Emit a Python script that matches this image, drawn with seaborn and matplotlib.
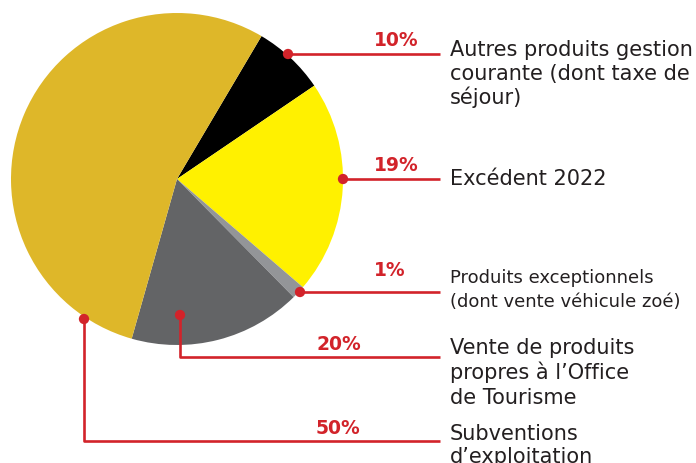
import matplotlib
matplotlib.use("Agg")
import matplotlib.pyplot as plt
import seaborn as sns
import pandas as pd

# slice sizes as measured on the picture (clockwise from the top-right)
categories = [
    "Autres produits gestion\ncourante (dont taxe de\nséjour)",
    "Excédent 2022",
    "Produits exceptionnels\n(dont vente véhicule zoé)",
    "Vente de produits\npropres à l\u2019Office\nde Tourisme",
    "Subventions\nd\u2019exploitation",
]
slice_shares = [7.0, 20.8, 1.3, 16.8, 54.1]
pct_labels = ["10%", "19%", "1%", "20%", "50%"]
colors = ["#000000", "#FFF100", "#939598", "#636466", "#DEB729"]

RED = "#D2232A"
W, H = 696, 464


def fy(y):
    # pixel row (from top) -> data y
    return H - y


sns.set_style("white")
plt.rcParams["font.family"] = ["DejaVu Sans"]

fig = plt.figure(figsize=(W / 100, H / 100), dpi=100)
ax = fig.add_axes([0, 0, 1, 1])

ax.pie(slice_shares, colors=colors, startangle=59.4, counterclock=False,
       center=(177, fy(180)), radius=166, frame=True,
       wedgeprops=dict(linewidth=0))

# leader lines: anchor dot, optional elbow, end at the text column
anchors = pd.DataFrame({
    "x": [288, 343, 300, 180, 84],
    "y": [fy(55), fy(180), fy(293), fy(316), fy(320)],
})
line_rows = [55, 180, 293, 358, 442]
pct_pos = [(374, 46), (374, 171), (374, 276), (316, 350), (316, 434)]
text_base = [56, 185, 283, 354, 440]
text_size = [15, 15, 13, 15, 15]
line_step = [24, 24, 24, 25, 23]

for i in range(len(categories)):
    x0, y0 = anchors.x[i], anchors.y[i]
    yl = fy(line_rows[i])
    ax.plot([x0, x0, 440], [y0, yl, yl], color=RED, lw=1.9,
            solid_capstyle="butt", zorder=3)
    ax.text(pct_pos[i][0], fy(pct_pos[i][1]), pct_labels[i], color=RED,
            fontsize=13.5, fontweight="bold", ha="left", va="baseline")
    for k, part in enumerate(categories[i].split("\n")):
        ax.text(450, fy(text_base[i] + k * line_step[i]), part,
                color="#231F20", fontsize=text_size[i],
                ha="left", va="baseline")

sns.scatterplot(data=anchors, x="x", y="y", color=RED, s=55,
                edgecolor="none", ax=ax, zorder=4)
ax.set_xlim(0, W)
ax.set_ylim(0, H)
ax.set_aspect("equal")
ax.axis("off")

fig.savefig("out.png", dpi=100)
